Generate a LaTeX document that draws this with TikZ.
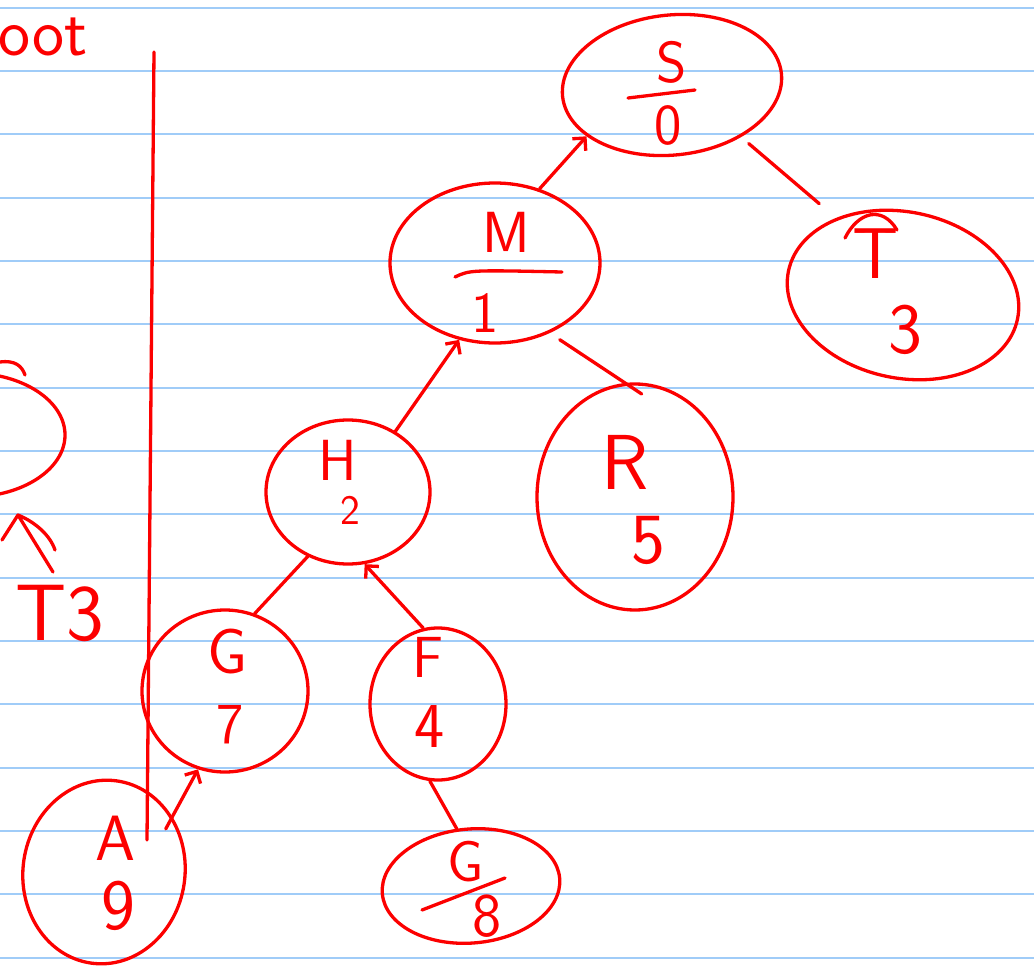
\documentclass[tikz,border=0pt]{standalone}
\usetikzlibrary{shapes.geometric,arrows.meta}
\definecolor{pen}{RGB}{252,0,0}
\definecolor{rulecol}{RGB}{160,204,248}
\tikzset{
 pen/.style={draw=pen,line width=3.3pt,line cap=round,line join=round},
 bubble/.style={ellipse,pen,inner sep=0pt},
 lbl/.style={text=pen,font=\sffamily\fontsize{58}{58}\selectfont,inner sep=0pt},
 big/.style={font=\sffamily\fontsize{72}{72}\selectfont},
 small/.style={font=\sffamily\fontsize{42}{42}\selectfont},
 edge/.style={pen},
 arr/.style={pen,-{Straight Barb[length=9pt,width=18pt]}},
}
\begin{document}
\begin{tikzpicture}[x=1pt,y=-1pt]
\fill[white] (0,0) rectangle (1034,969);
\useasboundingbox (0,0) rectangle (1034,969);
\foreach \k in {0,...,15} \draw[rulecol,line width=2pt] (0,{7.5+63.35*\k}) -- (1034,{7.5+63.35*\k});

% margin text and separator
\node[lbl,anchor=south east,font=\sffamily\fontsize{68}{68}\selectfont] (root) at (88,56) {root};
\draw[pen] (154,52) -- (147,840);

% left partial node
\node[bubble,minimum width=190pt,minimum height=124pt] (P) at (-30,435) {};
\draw[pen] (0,362) .. controls (15,360) and (22,366) .. (25,375);
\coordinate (pa) at (18,515);
\coordinate (pt) at (53,572);
\draw[pen] (pt) -- (pa);
\draw[pen] (2,540) -- (pa) .. controls (35,522) and (50,535) .. (55,550);
\node[lbl,font=\sffamily\fontsize{80}{80}\selectfont] (T3) at (60,613) {T3};

% tree nodes
\node[bubble,minimum width=220pt,minimum height=140pt,rotate=6] (S) at (672,85) {};
\node[bubble,minimum width=210pt,minimum height=160pt] (M) at (495,263) {};
\node[bubble,minimum width=234pt,minimum height=166pt,rotate=-12] (T) at (903,295) {};
\node[bubble,minimum width=164pt,minimum height=144pt] (H) at (348,492) {};
\node[bubble,minimum width=196pt,minimum height=226pt] (R) at (635,497) {};
\node[bubble,minimum width=166pt,minimum height=162pt] (G) at (225,691) {};
\node[bubble,minimum width=136pt,minimum height=152pt] (F) at (438,704) {};
\node[bubble,minimum width=162pt,minimum height=184pt,rotate=-8] (A) at (104,872) {};
\node[bubble,minimum width=178pt,minimum height=114pt,rotate=5] (G2) at (471,886) {};

% labels
\node[lbl] (Sl) at (672,62) {S};
\draw[pen] (628,98) -- (695,90);
\node[lbl] (Sv) at (668,125) {0};

\node[lbl] (Ml) at (506,232) {M};
\draw[pen] (455,277) .. controls (470,270) .. (562,272);
\node[lbl] (Mv) at (485,313) {1};

\draw[pen] (845,238) .. controls (858,212) and (882,205) .. (897,230);
\node[lbl,big] (Tl) at (876,254) {T};
\node[lbl,big] (Tv) at (905,330) {3};

\node[lbl] (Hl) at (338,460) {H};
\node[lbl,small] (Hv) at (350,510) {2};

\node[lbl,font=\sffamily\fontsize{78}{78}\selectfont] (Rl) at (625,462) {R};
\node[lbl,big] (Rv) at (648,540) {5};

\node[lbl,font=\sffamily\fontsize{64}{64}\selectfont] (Gl) at (228,652) {G};
\node[lbl] (Gv) at (230,725) {7};

\node[lbl] (Fl) at (428,657) {F};
\node[lbl,font=\sffamily\fontsize{64}{64}\selectfont] (Fv) at (430,727) {4};

\node[lbl,font=\sffamily\fontsize{64}{64}\selectfont] (Al) at (115,838) {A};
\node[lbl,big] (Av) at (118,906) {9};

\node[lbl] (G2l) at (466,862) {G};
\draw[pen] (422,910) -- (505,878);
\node[lbl,font=\sffamily\fontsize{62}{62}\selectfont] (G2v) at (487,916) {8};

% connectors
\draw[arr] (M.59) -- (S.205);
\draw[edge,shorten <=10pt,shorten >=22pt] (S.-43) -- (T.143);
\draw[arr] (H.52) -- (M.245);
\draw[edge,shorten <=12pt,shorten >=-20pt] (M.-52) -- (R.95);
\draw[edge] (H.238) -- (G.69);
\draw[arr] (F.101) -- (H.283);
\draw[arr,shorten <=-14pt] (A.47) -- (G.251);
\draw[edge] (F.264) -- (G2.99);
\end{tikzpicture}
\end{document}
